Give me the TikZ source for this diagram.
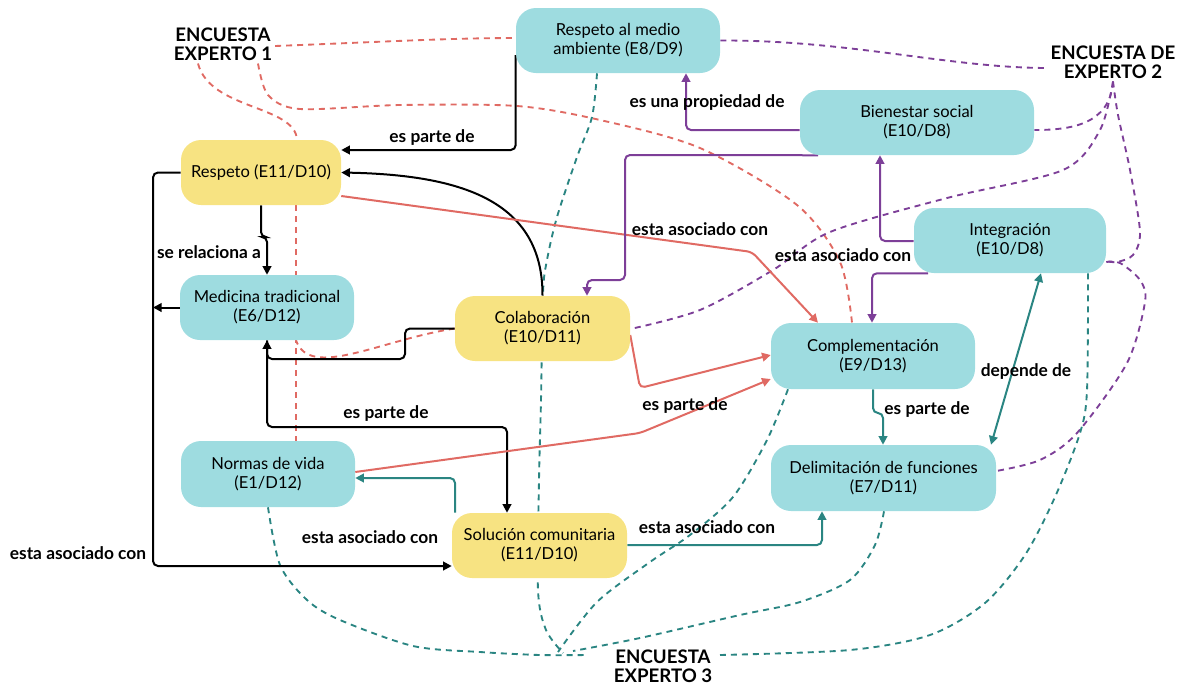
\documentclass[tikz,border=0pt]{standalone}
\usepackage{fontspec}
\setmainfont{Lato}
\usetikzlibrary{arrows.meta,backgrounds}
\definecolor{tfill}{HTML}{9EDCE0}
\definecolor{yfill}{HTML}{F7E382}
\definecolor{tline}{HTML}{2A8582}
\definecolor{rline}{HTML}{E06A63}
\definecolor{pline}{HTML}{7D3F98}
\tikzset{
  box/.style={rounded corners=15pt, minimum height=48.75pt, align=center, inner sep=2pt,
    font=\fontsize{12.4}{14.25}\selectfont},
  tbox/.style={box, fill=tfill},
  ybox/.style={box, fill=yfill},
  lab/.style={font=\bfseries\fontsize{13}{15}\selectfont, inner sep=1pt},
  big/.style={font=\bfseries\fontsize{14}{14.5}\selectfont, align=center, inner sep=2pt},
  con/.style={line width=1.5pt, rounded corners=3.75pt, -{Triangle[length=6.5pt,width=6.5pt]}},
  bcon/.style={con, draw=black},
  rcon/.style={con, draw=rline, fill=none},
  pcon/.style={con, draw=pline},
  tcon/.style={con, draw=tline},
  dsh/.style={line width=1.4pt, dash pattern=on 4.5pt off 3.75pt},
  rdsh/.style={dsh, draw=rline},
  pdsh/.style={dsh, draw=pline},
  tdsh/.style={dsh, draw=tline},
}
\begin{document}
\begin{tikzpicture}[x=0.75pt,y=-0.75pt]
\useasboundingbox (0,0) rectangle (1181,686);
% concept nodes
\node[ybox, minimum width=120pt] (resp) at (261,172.5) {Respeto (E11/D10)};
\node[tbox, minimum width=153pt] (rma) at (618,40.5) {Respeto al medio\\ambiente (E8/D9)};
\node[tbox, minimum width=175.5pt] (bien) at (917,122.5) {Bienestar social\\(E10/D8)};
\node[tbox, minimum width=144pt] (integ) at (1010,240.5) {Integración\\(E10/D8)};
\node[tbox, minimum width=130.5pt] (med) at (267,307.5) {Medicina tradicional\\(E6/D12)};
\node[ybox, minimum width=131.25pt] (colab) at (542.5,328.5) {Colaboración\\(E10/D11)};
\node[tbox, minimum width=153pt, minimum height=49.5pt] (comp) at (873,356) {Complementación\\(E9/D13)};
\node[tbox, minimum width=130.5pt, minimum height=49.5pt] (normas) at (268,474) {Normas de vida\\(E1/D12)};
\node[tbox, minimum width=168.75pt, minimum height=49.5pt] (delim) at (883.5,478) {Delimitación de funciones\\(E7/D11)};
\node[ybox, minimum width=131.25pt] (sol) at (539.5,545.5) {Solución comunitaria\\(E11/D10)};
% survey labels
\node[big] (e1) at (223,44) {ENCUESTA\\EXPERTO 1};
\node[big] (e2) at (1113,62) {ENCUESTA DE\\EXPERTO 2};
\node[big] (e3) at (663,666) {ENCUESTA\\EXPERTO 3};
% edge labels
\node[lab] (l1) at (432,138) {es parte de};
\node[lab] (l2) at (707,103) {es una propiedad de};
\node[lab] (l3) at (209,252) {se relaciona a};
\node[lab] (l4) at (700,229) {esta asociado con};
\node[lab] (l5) at (843,255) {esta asociado con};
\node[lab] (l6) at (386,414) {es parte de};
\node[lab] (l7) at (685,406) {es parte de};
\node[lab] (l8) at (1026,372) {depende de};
\node[lab] (l9) at (927,410) {es parte de};
\node[lab] (l10) at (370,537) {esta asociado con};
\node[lab] (l11) at (78,553) {esta asociado con};
\node[lab] (l12) at (707,527) {esta asociado con};
\coordinate (mj) at (153,307.5);
\coordinate (e3a) at (558,652);

\begin{scope}[on background layer]
% expert 1 (red dashed)
\draw[rdsh] (e1.east |- 0,46) .. controls (380,42) and (450,38) .. (rma.west |- 0,38);
\draw[rdsh] (e1.south -| 198,0) .. controls (210,110) and (295,105) .. (resp.north -| 297,0);
\draw[rdsh] plot[smooth] coordinates {(e1.south -| 258,0) (268,95) (300,109) (400,105) (517,106) (600,120) (700,148) (797,205) (840,262) (comp.north -| 852,0)};
\draw[rdsh] (resp.south -| 296,0) -- (normas.north -| 296,0);
\draw[rdsh] (colab.west) .. controls (380,340) and (310,380) .. (med.south -| 296,0);
% expert 2 (purple dashed)
\draw[pdsh] (rma.east) .. controls (850,40) and (950,68) .. (e2.west |- 0,68);
\draw[pdsh] (e2.south) .. controls (1110,125) and (1070,130) .. (bien.east |- 0,130);
\draw[pdsh] plot[smooth] coordinates {(e2.south) (1100,130) (1063,170) (947,198) (830,232) (773,270) (700,310) (colab.east |- 0,329)};
\draw[pdsh] plot[smooth] coordinates {(e2.south) (1118,115) (1130,170) (1140,232) (1133,255) (1117,262) (integ.east |- 0,261)};
\draw[pdsh] plot[smooth] coordinates {(integ.east |- 0,262) (1120,263) (1140,280) (1145,302) (1127,363) (1077,433) (1040,460) (delim.east |- 0,471)};
% expert 3 (teal dashed)
\draw[tdsh] plot[smooth] coordinates {(rma.south -| 597,0) (592,117) (577,157) (557,217) (547,260) (543,293) (541,400) (539,480) (538,590) (546,630) (563,653)};
\draw[tdsh] plot[smooth] coordinates {(normas.south) (280,565) (307,600) (340,620) (413,646) (480,652) (540,655) (587,655)};
\draw[tdsh] plot[smooth] coordinates {(comp.south -| 788,0) (767,440) (733,497) (690,535) (650,562) (597,602) (e3a)};
\draw[tdsh] plot[smooth] coordinates {(delim.south -| 884,0) (875,545) (850,580) (800,602) (740,615) (640,638) (573,651)};
\draw[tdsh] plot[smooth] coordinates {(integ.south -| 1088,0) (1087,390) (1080,433) (1055,497) (1025,555) (985,603) (930,635) (850,650) (720,655)};
% black connectors
\draw[bcon] (rma.west |- 0,55) -- (rma.west |- 0,150) -- (resp.east |- 0,150);
\draw[bcon] (colab.north) .. controls (543,200) and (460,175) .. (resp.east);
\draw[bcon] (resp.south) -- (261,237) -| (med.north);
\draw[bcon] (resp.west) -- (153,172.5) -- (153,566) -- (sol.west |- 0,566);
\draw[bcon] (med.west) -- (mj);
\draw[bcon] (colab.west) -- (405,328.5) -- (405,359) -| (med.south);
\draw[bcon] (med.south) -- (267,427) -- (507,427) -- (sol.north -| 507,0);
% red connectors
\draw[rcon] (resp.east |- 0,196) -- (752,252) -- (comp.north -| 818,0);
\draw[rcon] (colab.east |- 0,335) -- (640,388) -- (comp.west |- 0,355);
\draw[rcon] (normas.east |- 0,472) -- (640,433) -- (comp.west |- 0,379);
% purple connectors
\draw[pcon] (bien.south -| 818,0) -- (625,155) -- (625,280) -- (587,280) -- (colab.north -| 587,0);
\draw[pcon] (bien.west |- 0,130) -- (686,130) -- (rma.south -| 686,0);
\draw[pcon] (integ.west |- 0,241) -- (880,241) -- (bien.south -| 880,0);
\draw[pcon] (integ.south -| 928,0) -| (comp.north -| 872,0);
% teal connectors
\draw[tcon] (comp.south) -- (873,413) -| (delim.north -| 883,0);
\draw[tcon, {Triangle[length=6.5pt,width=6.5pt]}-{Triangle[length=6.5pt,width=6.5pt]}] (integ.south -| 1041,0) -- (delim.north -| 991,0);
\draw[tcon] (sol.north -| 455,0) -- (455,478) -- (normas.east |- 0,478);
\draw[tcon] (sol.east |- 0,545) -- (822,545) -- (delim.south -| 822,0);
\end{scope}
\end{tikzpicture}
\end{document}
